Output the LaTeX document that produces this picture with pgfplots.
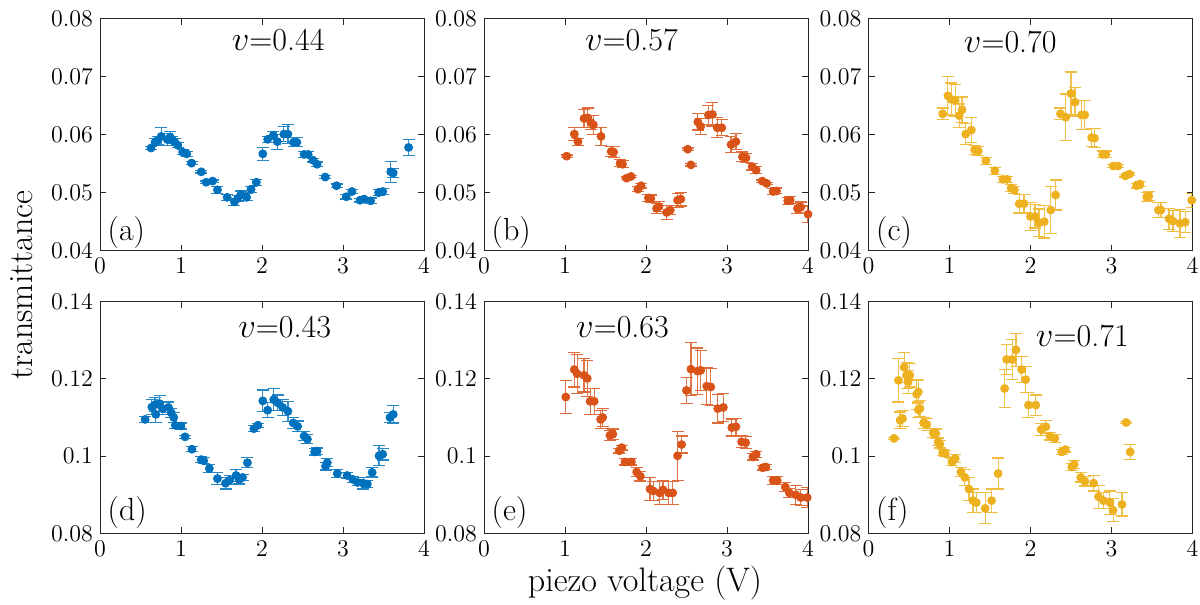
\documentclass[border=0pt]{standalone}
\usepackage{pgfplots}
\pgfplotsset{compat=1.18}
\definecolor{mblue}{rgb}{0,0.447,0.741}
\definecolor{morange}{rgb}{0.85,0.325,0.098}
\definecolor{myellow}{rgb}{0.929,0.694,0.125}
\definecolor{axgray}{rgb}{0.15,0.15,0.15}
\pgfplotsset{
  panel/.style={scale only axis, width=162pt, height=116pt, anchor=south west,
    xmin=0, xmax=4, xtick={0,1,2,3,4},
    tick align=inside, major tick length=3pt,
    axis line style={axgray, line width=0.45pt}, tick style={axgray, line width=0.45pt},
    ticklabel style={font=\fontsize{12.5}{14}\selectfont, text=black},
    scaled y ticks=false,
    yticklabel style={/pgf/number format/fixed, /pgf/number format/precision=2},
  },
  toprow/.style={ymin=0.04, ymax=0.08, ytick={0.04,0.05,0.06,0.07,0.08}},
  botrow/.style={ymin=0.08, ymax=0.14, ytick={0.08,0.1,0.12,0.14}},
  ser/.style={only marks, mark=*, mark size=2pt, color=#1, mark options={fill=#1, draw=#1},
    error bars/y dir=both, error bars/y explicit,
    error bars/error bar style={#1!80!white, line width=0.6pt},
    error bars/error mark options={rotate=90, mark size=3pt, line width=0.6pt, #1!85!white}},
}
\tikzset{
  ttl/.style={font=\fontsize{16}{19}\selectfont},
  plab/.style={font=\fontsize{16}{19}\selectfont, anchor=west, inner sep=0pt},
}
\begin{document}
\begin{tikzpicture}
\path[use as bounding box] (0,0) rectangle (600pt,302.5pt);

% (a)
\begin{axis}[panel, toprow, at={(50pt,177.15pt)}]
\addplot[ser=mblue] table[x index=0, y index=1, y error index=2] {
0.63 0.0577 0.0003
0.68 0.0587 0.0006
0.71 0.0590 0.0007
0.755 0.0597 0.0015
0.83 0.0592 0.0010
0.866 0.0596 0.0010
0.895 0.0591 0.0006
0.924 0.0587 0.0006
0.96 0.0582 0.0004
1.02 0.0570 0.0004
1.07 0.0567 0.0004
1.13 0.0551 0.0003
1.25 0.0536 0.0002
1.31 0.0518 0.0002
1.39 0.0520 0.0002
1.45 0.0505 0.0006
1.57 0.0492 0.0005
1.66 0.0484 0.0006
1.70 0.0490 0.0005
1.74 0.0497 0.0006
1.81 0.0492 0.0006
1.865 0.0506 0.0005
1.93 0.0518 0.0005
2.01 0.0567 0.0011
2.07 0.0592 0.0005
2.14 0.0599 0.0007
2.19 0.0588 0.0013
2.27 0.0601 0.0013
2.32 0.0601 0.0016
2.39 0.0587 0.0008
2.43 0.0587 0.0008
2.52 0.0566 0.0005
2.57 0.0566 0.0005
2.63 0.0556 0.0003
2.68 0.0549 0.0004
2.78 0.0527 0.0003
2.92 0.0512 0.0003
3.04 0.0493 0.0004
3.11 0.0502 0.0004
3.21 0.0487 0.0003
3.26 0.0489 0.0003
3.34 0.0486 0.0005
3.44 0.0500 0.0005
3.49 0.0502 0.0005
3.59 0.0536 0.0018
3.62 0.0534 0.0008
3.81 0.0578 0.0014
};
\node[ttl] at (axis cs:2.2,0.0763) {$v$=0.44};
\node[plab] at (axis cs:0.09,0.0432) {(a)};
\end{axis}

% (b)
\begin{axis}[panel, toprow, at={(242pt,177.15pt)}]
\addplot[ser=morange] table[x index=0, y index=1, y error index=2] {
1.02 0.0563 0.0002
1.115 0.0601 0.0011
1.16 0.0588 0.0006
1.235 0.0628 0.0016
1.28 0.0629 0.0017
1.32 0.0621 0.0012
1.35 0.0617 0.0016
1.445 0.0597 0.0016
1.57 0.0571 0.0009
1.60 0.0570 0.0009
1.68 0.0551 0.0006
1.71 0.0549 0.0006
1.76 0.0525 0.0002
1.815 0.0528 0.0002
1.90 0.0506 0.0004
1.94 0.0512 0.0004
2.03 0.0491 0.0006
2.06 0.0490 0.0006
2.13 0.0473 0.0009
2.16 0.0476 0.0009
2.255 0.0466 0.0012
2.30 0.0470 0.0008
2.39 0.0487 0.0012
2.43 0.0489 0.0012
2.515 0.0575 0.0002
2.555 0.0548 0.0002
2.64 0.0622 0.0014
2.675 0.0614 0.0014
2.77 0.0634 0.0017
2.82 0.0635 0.0020
2.88 0.0612 0.0017
2.935 0.0612 0.0014
3.05 0.0583 0.0014
3.11 0.0588 0.0014
3.19 0.0562 0.0008
3.235 0.0560 0.0008
3.31 0.0545 0.0006
3.36 0.0539 0.0006
3.435 0.0520 0.0002
3.49 0.0516 0.0002
3.57 0.0502 0.0005
3.61 0.0503 0.0005
3.75 0.0486 0.0006
3.78 0.0487 0.0006
3.87 0.0473 0.0009
3.91 0.0475 0.0009
4.00 0.0463 0.0014
};
\node[ttl] at (axis cs:1.82,0.0763) {$v$=0.57};
\node[plab] at (axis cs:0.09,0.0432) {(b)};
\end{axis}

% (c)
\begin{axis}[panel, toprow, at={(434.25pt,177.15pt)}]
\addplot[ser=myellow] table[x index=0, y index=1, y error index=2] {
0.916 0.0636 0.0010
0.98 0.0667 0.0033
1.02 0.0661 0.0028
1.07 0.0659 0.0028
1.12 0.0633 0.0020
1.155 0.0643 0.0022
1.20 0.0601 0.0018
1.27 0.0608 0.0022
1.31 0.0574 0.0008
1.355 0.0572 0.0008
1.45 0.0555 0.0006
1.56 0.0538 0.0006
1.66 0.0523 0.0005
1.71 0.0523 0.0005
1.76 0.0508 0.0006
1.80 0.0505 0.0006
1.86 0.0481 0.0016
1.92 0.0481 0.0016
2.00 0.0459 0.0024
2.055 0.0459 0.0020
2.105 0.0448 0.0024
2.17 0.0450 0.0028
2.25 0.0470 0.0040
2.31 0.0496 0.0026
2.37 0.0636 0.0010
2.435 0.0630 0.0040
2.50 0.0671 0.0037
2.55 0.0656 0.0025
2.63 0.0634 0.0025
2.67 0.0634 0.0025
2.755 0.0595 0.0016
2.79 0.0594 0.0016
2.89 0.0566 0.0006
2.93 0.0566 0.0006
3.02 0.0546 0.0002
3.08 0.0546 0.0002
3.17 0.0529 0.0002
3.22 0.0532 0.0002
3.31 0.0512 0.0004
3.35 0.0515 0.0004
3.435 0.0493 0.0008
3.46 0.0494 0.0008
3.58 0.0470 0.0013
3.61 0.0470 0.0013
3.71 0.0455 0.0018
3.76 0.0451 0.0018
3.845 0.0447 0.0024
3.91 0.0449 0.0018
3.99 0.0487 0.0012
};
\node[ttl] at (axis cs:1.75,0.0760) {$v$=0.70};
\node[plab] at (axis cs:0.09,0.0432) {(c)};
\end{axis}

% (d)
\begin{axis}[panel, botrow, at={(50pt,35.75pt)}]
\addplot[ser=mblue] table[x index=0, y index=1, y error index=2] {
0.557 0.1095 0.0007
0.64 0.1127 0.0020
0.68 0.1133 0.0018
0.69 0.1108 0.0020
0.735 0.1136 0.0020
0.77 0.1123 0.0016
0.845 0.1126 0.0014
0.88 0.1112 0.0012
0.91 0.1100 0.0012
0.93 0.1080 0.0008
1.00 0.1078 0.0008
1.05 0.1050 0.0004
1.135 0.1018 0.0006
1.25 0.0991 0.0008
1.28 0.0988 0.0008
1.35 0.0968 0.0010
1.45 0.0942 0.0015
1.55 0.0930 0.0015
1.60 0.0938 0.0012
1.68 0.0950 0.0015
1.72 0.0940 0.0012
1.76 0.0945 0.0008
1.82 0.0983 0.0013
1.90 0.1071 0.0008
1.95 0.1080 0.0005
2.01 0.1143 0.0028
2.07 0.1119 0.0019
2.145 0.1146 0.0028
2.195 0.1138 0.0020
2.255 0.1126 0.0020
2.32 0.1116 0.0026
2.385 0.1086 0.0014
2.44 0.1077 0.0014
2.52 0.1052 0.0012
2.56 0.1044 0.0012
2.65 0.1011 0.0008
2.68 0.1013 0.0008
2.785 0.0974 0.0010
2.805 0.0983 0.0010
2.93 0.0955 0.0010
3.05 0.0950 0.0008
3.12 0.0940 0.0008
3.18 0.0932 0.0008
3.25 0.0930 0.0015
3.30 0.0928 0.0010
3.36 0.0958 0.0012
3.445 0.1001 0.0026
3.49 0.1005 0.0015
3.58 0.1100 0.0013
3.62 0.1108 0.0022
};
\node[ttl] at (axis cs:2.28,0.1334) {$v$=0.43};
\node[plab] at (axis cs:0.09,0.0855) {(d)};
\end{axis}

% (e)
\begin{axis}[panel, botrow, at={(242pt,35.75pt)}]
\addplot[ser=morange] table[x index=0, y index=1, y error index=2] {
1.01 0.1153 0.0043
1.115 0.1224 0.0045
1.15 0.1213 0.0050
1.235 0.1209 0.0043
1.275 0.1201 0.0047
1.31 0.1142 0.0034
1.36 0.1142 0.0034
1.44 0.1095 0.0024
1.465 0.1100 0.0024
1.555 0.1054 0.0013
1.59 0.1057 0.0013
1.67 0.1014 0.0006
1.70 0.1022 0.0006
1.74 0.0985 0.0008
1.82 0.0985 0.0008
1.885 0.0959 0.0012
1.93 0.0948 0.0012
2.05 0.0915 0.0030
2.09 0.0910 0.0025
2.17 0.0905 0.0030
2.21 0.0913 0.0025
2.28 0.0905 0.0030
2.33 0.0905 0.0030
2.39 0.1001 0.0063
2.44 0.1030 0.0022
2.50 0.1170 0.0034
2.555 0.1225 0.0069
2.635 0.1220 0.0060
2.675 0.1222 0.0052
2.75 0.1181 0.0047
2.80 0.1179 0.0047
2.885 0.1123 0.0037
2.955 0.1126 0.0037
3.06 0.1074 0.0022
3.11 0.1076 0.0022
3.18 0.1037 0.0015
3.23 0.1035 0.0015
3.32 0.0998 0.0008
3.36 0.1005 0.0008
3.44 0.0970 0.0006
3.48 0.0972 0.0006
3.57 0.0937 0.0010
3.62 0.0937 0.0010
3.72 0.0920 0.0012
3.77 0.0905 0.0012
3.85 0.0900 0.0025
3.91 0.0893 0.0020
3.99 0.0893 0.0025
};
\node[ttl] at (axis cs:1.71,0.1333) {$v$=0.63};
\node[plab] at (axis cs:0.09,0.0855) {(e)};
\end{axis}

% (f)
\begin{axis}[panel, botrow, at={(434.25pt,35.75pt)}]
\addplot[ser=myellow] table[x index=0, y index=1, y error index=2] {
0.315 0.1046 0.0002
0.37 0.1196 0.0056
0.39 0.1093 0.0021
0.42 0.1097 0.0021
0.44 0.1230 0.0039
0.47 0.1209 0.0034
0.49 0.1192 0.0030
0.51 0.1209 0.0030
0.595 0.1160 0.0039
0.615 0.1166 0.0030
0.615 0.1120 0.0020
0.635 0.1123 0.0021
0.68 0.1086 0.0015
0.72 0.1082 0.0015
0.80 0.1060 0.0012
0.83 0.1058 0.0012
0.86 0.1037 0.0010
0.88 0.1031 0.0010
0.915 0.1009 0.0008
0.945 0.1007 0.0008
1.03 0.0985 0.0010
1.07 0.0994 0.0010
1.14 0.0959 0.0012
1.19 0.0945 0.0020
1.24 0.0915 0.0030
1.29 0.0885 0.0030
1.33 0.0880 0.0025
1.44 0.0865 0.0040
1.52 0.0885 0.0030
1.60 0.0955 0.0040
1.68 0.1175 0.0050
1.705 0.1250 0.0039
1.775 0.1250 0.0052
1.82 0.1275 0.0043
1.89 0.1224 0.0034
1.94 0.1198 0.0034
1.975 0.1132 0.0033
2.065 0.1132 0.0026
2.13 0.1069 0.0016
2.19 0.1076 0.0017
2.24 0.1052 0.0010
2.30 0.1046 0.0010
2.385 0.1011 0.0006
2.43 0.1017 0.0006
2.51 0.0972 0.0010
2.54 0.0979 0.0010
2.62 0.0945 0.0012
2.67 0.0935 0.0012
2.78 0.0930 0.0020
2.84 0.0895 0.0030
2.90 0.0885 0.0020
2.98 0.0880 0.0030
3.02 0.0860 0.0030
3.13 0.0875 0.0030
3.18 0.1087 0.0003
3.23 0.1011 0.0019
};
\node[ttl] at (axis cs:2.64,0.1312) {$v$=0.71};
\node[plab] at (axis cs:0.09,0.0855) {(f)};
\end{axis}

\node[rotate=90, font=\fontsize{17}{20}\selectfont] at (11pt,160pt) {transmittance};
\node[font=\fontsize{17}{20}\selectfont] at (322.5pt,11pt) {piezo voltage (V)};
\end{tikzpicture}
\end{document}
